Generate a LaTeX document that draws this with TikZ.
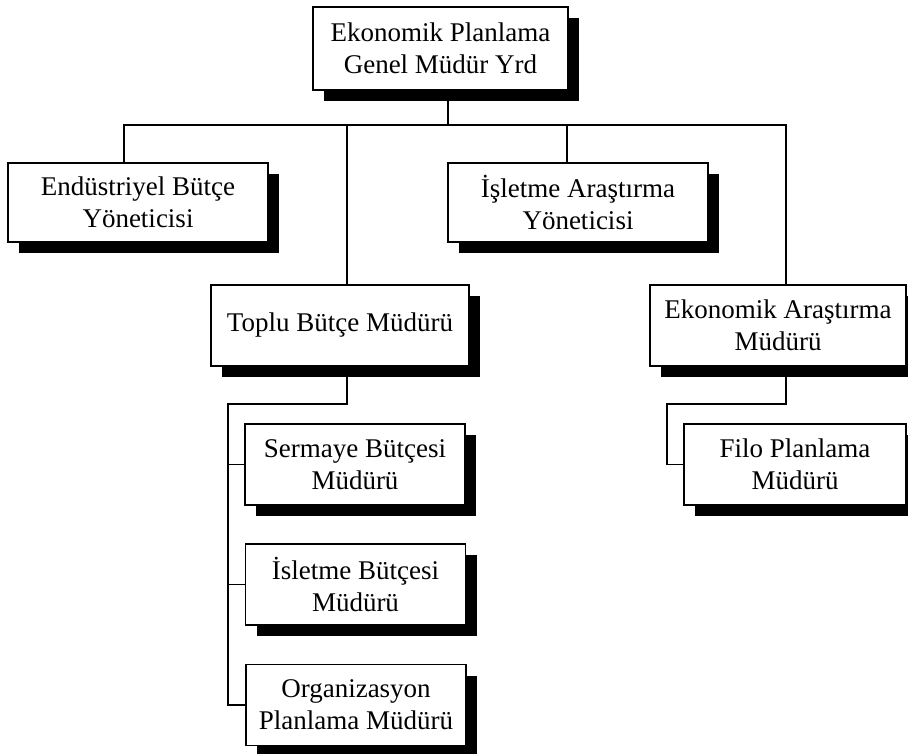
\documentclass[tikz,border=0pt]{standalone}
\usepackage{fontspec}
\setmainfont{Liberation Serif}
\usetikzlibrary{shadows}
\begin{document}
\begin{tikzpicture}[x=1pt,y=1pt,
  orgbox/.style={draw, line width=1.3pt, fill=white, inner sep=0pt,
    align=center, font=\fontsize{27}{32}\selectfont,
    drop shadow={shadow xshift=11pt, shadow yshift=-11pt, fill=black, opacity=1}},
  link/.style={line width=1.3pt}]
\clip (0,0) rectangle (908,-754);
\fill[white] (0,0) rectangle (908,-754);

% boxes
\node[orgbox, minimum width=255pt, minimum height=83pt] (top) at (440.5,-48.5)
  {Ekonomik Planlama\\Genel Müdür Yrd};
\node[orgbox, minimum width=260pt, minimum height=79pt] (endu) at (138,-202.5)
  {Endüstriyel Bütçe\\Yöneticisi};
\node[orgbox, minimum width=260pt, minimum height=79pt] (isar) at (578,-202.5)
  {İşletme Araştırma\\Yöneticisi};
\node[orgbox, minimum width=258pt, minimum height=81pt] (toplu) at (340,-325.5)
  {Toplu Bütçe Müdürü};
\node[orgbox, minimum width=256pt, minimum height=81pt] (ekar) at (778,-325.5)
  {Ekonomik Araştırma\\Müdürü};
\node[orgbox, minimum width=220pt, minimum height=81pt] (serm) at (355,-464.5)
  {Sermaye Bütçesi\\Müdürü};
\node[orgbox, minimum width=220pt, minimum height=81pt] (islb) at (355.5,-584.5)
  {İsletme Bütçesi\\Müdürü};
\node[orgbox, minimum width=220pt, minimum height=81pt] (org) at (356,-705)
  {Organizasyon\\Planlama Müdürü};
\node[orgbox, minimum width=222pt, minimum height=81pt] (filo) at (795,-464.5)
  {Filo Planlama\\Müdürü};

% connection points
\coordinate (bus) at (0,-125);
\coordinate (sub) at (0,-404);
\coordinate (dTop) at ([xshift=7.5pt]top.south);
\coordinate (dE) at ([xshift=-14pt]endu.north);
\coordinate (dT) at ([xshift=7pt]toplu.north);
\coordinate (dI) at ([xshift=-11pt]isar.north);
\coordinate (dK) at ([xshift=8pt]ekar.north);
\coordinate (uT) at ([xshift=7pt]toplu.south);
\coordinate (uK) at ([xshift=8pt]ekar.south);
\coordinate (spineT) at (228,-404);
\coordinate (spineK) at (667,-404);

% top level bus
\draw[link] (dTop) -- (dTop |- bus);
\draw[link] (dE) -- (dE |- bus) -- (dK |- bus) -- (dK);
\draw[link] (dT) -- (dT |- bus);
\draw[link] (dI) -- (dI |- bus);

% budget department
\draw[link] (uT) -- (uT |- sub) -- (spineT) -- (spineT |- org.west) -- (org.west);
\draw[link] (spineT |- serm.west) -- (serm.west);
\draw[link] (spineT |- islb.west) -- (islb.west);

% economic research department
\draw[link] (uK) -- (uK |- sub) -- (spineK) -- (spineK |- filo.west) -- (filo.west);
\end{tikzpicture}
\end{document}
